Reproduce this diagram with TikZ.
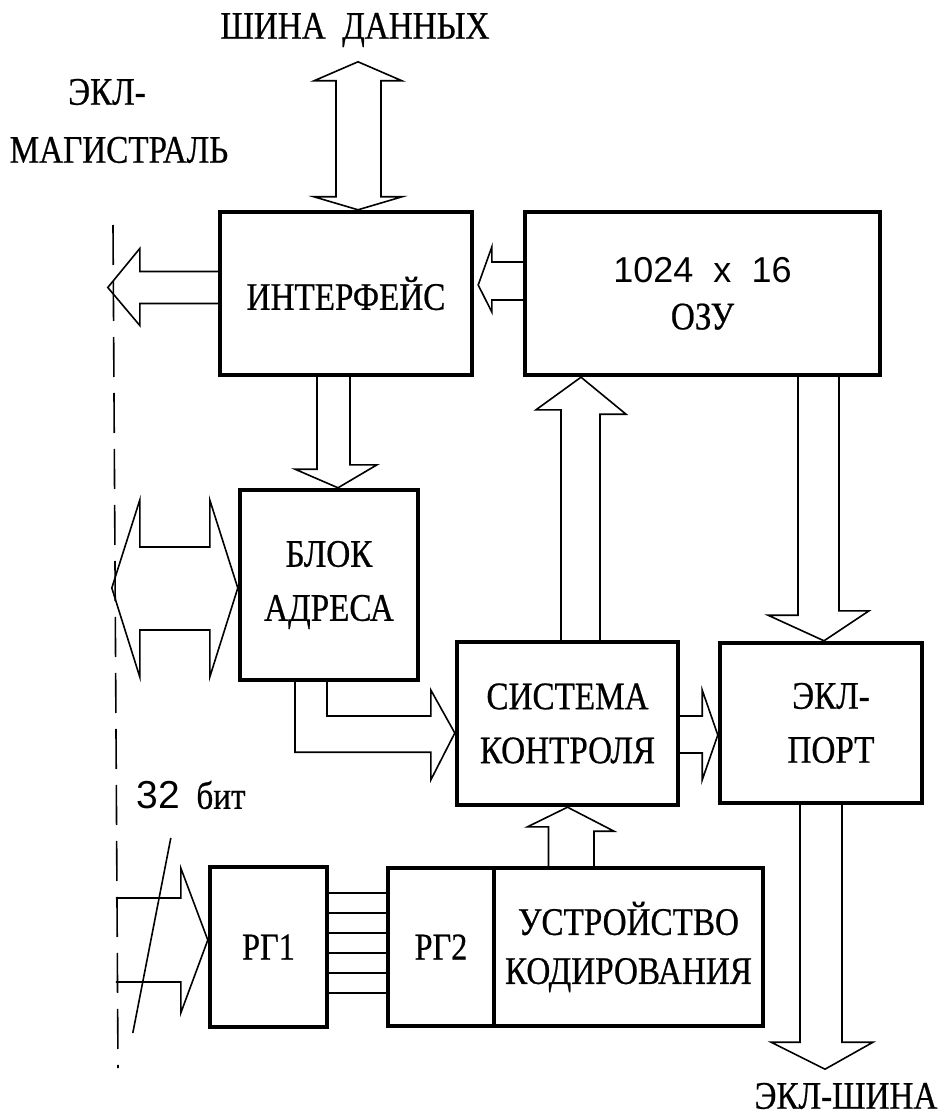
\documentclass[tikz,border=0pt]{standalone}
\usepackage{fontspec}
\setmainfont[FakeStretch=0.85,FakeBold=0.6]{Liberation Serif}
\setsansfont{Liberation Sans}
\usetikzlibrary{calc}

\begin{document}
\begin{tikzpicture}[x=0.5pt,y=-0.5pt,
  box/.style={draw,line width=2.2pt,inner sep=0pt,align=center,font=\fontsize{19.5}{27}\selectfont},
  bus/.style={draw,line width=0.8pt,line join=miter},
  lbl/.style={inner sep=0pt,font=\fontsize{19.5}{27}\selectfont}]
\useasboundingbox (0,0) rectangle (942,1118);
% blocks
\node[box,minimum width=126pt,minimum height=81.5pt] (intf) at (346,293.5) {ИНТЕРФЕЙС};
\node[box,minimum width=177.5pt,minimum height=81.5pt,font=\fontsize{19.5}{23.5}\selectfont] (ozu) at (702.5,293.5) {{\sffamily\fontsize{18}{23.5}\selectfont 1024~~x~~16}\\ОЗУ};
\node[box,minimum width=89pt,minimum height=95pt] (blok) at (329,585) {БЛОК\\АДРЕСА};
\node[box,minimum width=110.5pt,minimum height=81.5pt] (sist) at (567.5,723.5) {СИСТЕМА\\КОНТРОЛЯ};
\node[box,minimum width=101pt,minimum height=80pt] (port) at (821,723) {\hspace*{10pt}ЭКЛ-\\\hspace*{10pt}ПОРТ};
\node[box,minimum width=58.5pt,minimum height=80pt,font=\fontsize{19}{23}\selectfont] (rg1) at (268.5,947) {РГ1};
\node[box,minimum width=53pt,minimum height=79pt,font=\fontsize{19}{23}\selectfont] (rg2) at (441,947) {РГ2};
\node[box,minimum width=134.5pt,minimum height=79pt,font=\fontsize{19.5}{24.5}\selectfont] (kod) at (628.5,947) {УСТРОЙСТВО\\КОДИРОВАНИЯ};
% labels
\node[lbl] (dbus) at (355,30) {ШИНА~~ДАННЫХ};
\node[lbl] (ecl) at (107,92) {ЭКЛ-};
\node[lbl] (magistr) at (119,150) {МАГИСТРАЛЬ};
\node[lbl] (bits) at (191,795) {{\sffamily 32}~~бит};
\node[lbl] (eclbus) at (846,1096) {ЭКЛ-ШИНА};
% ECL bus line
\draw[line width=0.8pt,dash pattern=on 20pt off 8pt] (113,225) -- (118,1068);
% wide arrows
\draw[bus] ($(intf.north)+(-10,-13)$) -- ++(0,-116) -- ++(-22,0) -- ($(intf.north)+(12,-148)$) -- ++(44,19) -- ++(-21,0) -- ++(0,116) -- ++(21,0) -- ($(intf.north)+(12,0)$) -- ++(-44,-13) -- cycle;
\draw[bus] ($(intf.west)+(0,-22)$) -- ++(-78,0) -- ++(0,-23) -- ($(intf.west)+(-110,-6)$) -- ($(intf.west)+(-78,32)$) -- ++(0,-22) -- ($(intf.west)+(0,10)$);
\draw[bus] ($(ozu.west)+(0,-31.5)$) -- ++(-31,0) -- ++(0,-15) -- ($(intf.east)+(4,-8.5)$) -- ($(ozu.west)+(-31,18.5)$) -- ++(0,-12) -- ($(ozu.west)+(0,6.5)$);
\draw[bus] ($(intf.south)+(-29,0)$) -- ++(0,92) -- ++(-22,0) -- ($(blok.north)+(9,0)$) -- ++(39,-23) -- ++(-27,0) -- ($(intf.south)+(4,0)$);
\draw[bus] ($(blok.west)+(0,3)$) -- ++(-28,-88) -- ++(0,47) -- ++(-70,0) -- ++(0,-47) -- ($(blok.west)+(-126,3)$) -- ++(28,89) -- ++(0,-47) -- ++(70,0) -- ++(0,47) -- cycle;
\draw[bus] ($(blok.south)+(-34,0)$) -- ++(0,70) -| ($(sist.west)+(-24,56.5)$) -- ($(sist.west)+(0,9.5)$) -- ($(sist.west)+(-24,-33.5)$) -- ++(0,26) -| ($(blok.south)+(-2,0)$);
\draw[bus] ($(sist.east)+(0,-7.5)$) -- ++(22,0) -- ++(0,-26) -- ($(port.west)+(0,12)$) -- ($(sist.east)+(22,56.5)$) -- ++(0,-27) -- ($(sist.east)+(0,29.5)$);
\draw[bus] ($(sist.north)+(-6.5,0)$) -- ++(0,-230) -- ++(-25,0) -- ($(ozu.south)+(-121.5,0)$) -- ++(45,37) -- ++(-26,0) -- ($(sist.north)+(32.5,0)$);
\draw[bus] ($(ozu.south)+(95.5,0)$) -- ++(0,238) -- ++(-30,0) -- ($(port.north)+(3,0)$) -- ++(45,-30) -- ++(-30,0) -- ($(ozu.south)+(136.5,0)$);
\draw[bus] ($(port.south)+(-21,0)$) -- ++(0,237) -- ++(-29,0) -- ($(port.south)+(4,264)$) -- ++(48,-27) -- ++(-31,0) -- ($(port.south)+(21,0)$);
\draw[bus] ($(kod.north)+(-80,0)$) -- ++(0,-39) -- ++(-21,0) -- (sist.south) -- ++(46.5,24) -- ++(-20,0) -- ($(kod.north)+(-34.5,0)$);
\draw[bus] ($(rg1.west)+(-92,-49)$) -- ++(65,0) -- ++(0,-30) -- ($(rg1.west)+(0,-7)$) -- ($(rg1.west)+(-27,66)$) -- ++(0,-31) -- ++(-65,0);
\draw[bus] ($(rg1.west)+(-37,-109)$) -- ($(rg1.west)+(-75,86)$);
% register lines
\foreach \d in {-54,-34,-14,6,26,46}
  \draw[bus] ($(rg1.east)+(0,\d)$) -- ($(rg2.west)+(0,\d)$);
\end{tikzpicture}
\end{document}
